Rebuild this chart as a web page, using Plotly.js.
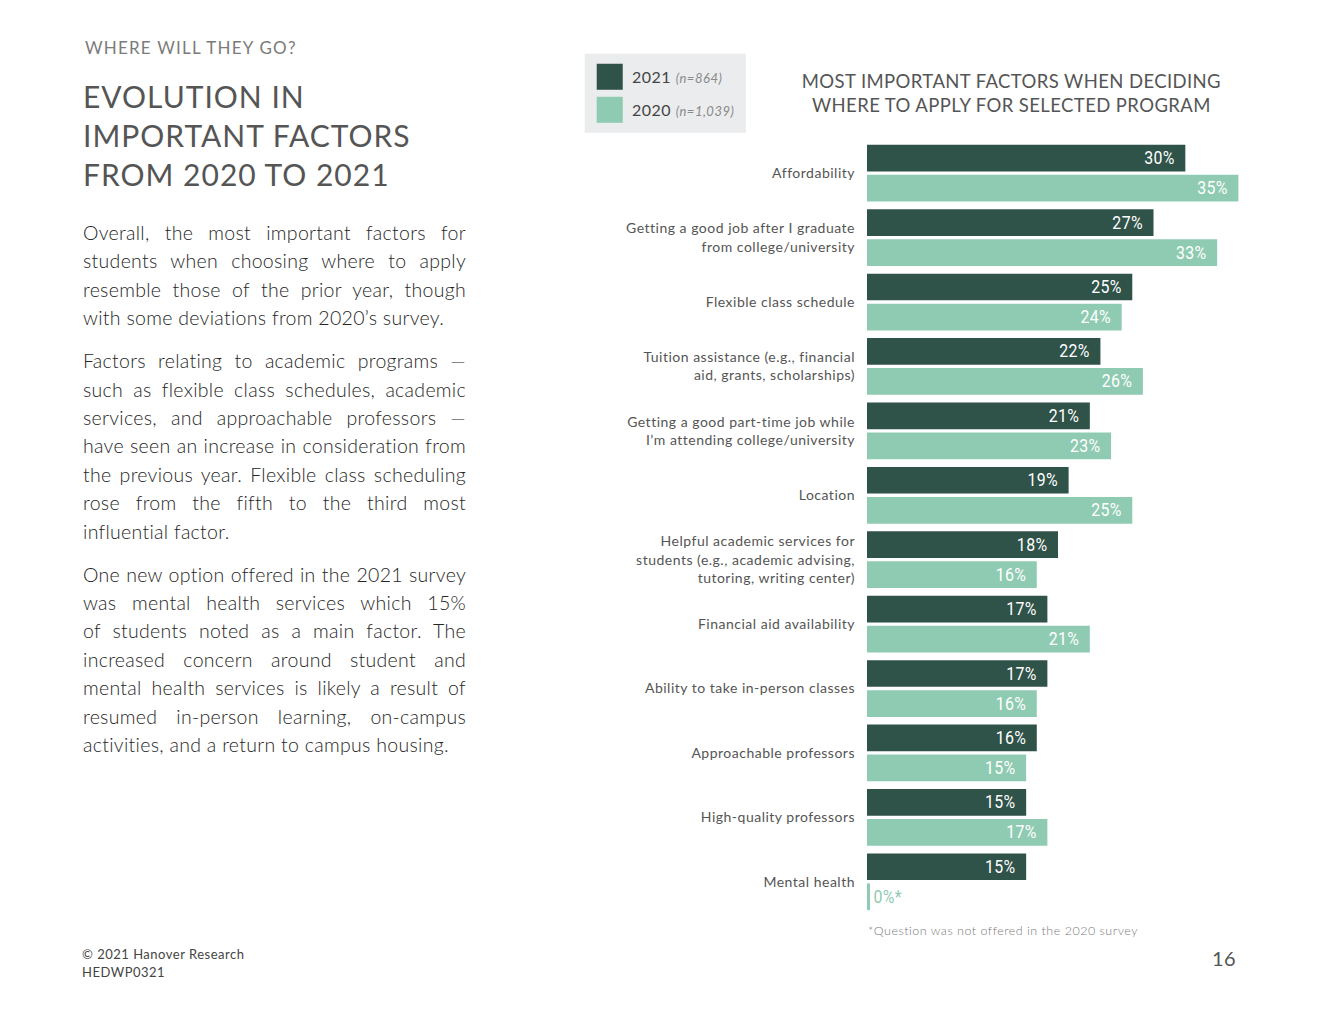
<!DOCTYPE html>
<html>
<head>
<meta charset="utf-8">
<script src="https://cdn.plot.ly/plotly-3.0.1.min.js"></script>
<style>
  html, body { margin: 0; padding: 0; background: #ffffff; }
  #page { position: relative; width: 1320px; height: 1020px; overflow: hidden; }
  #chart { position: absolute; left: 0; top: 0; width: 1320px; height: 1020px; }
  #body-text { position: absolute; left: 83px; top: 219px; width: 383px;
    font-family: Lato, "Open Sans", sans-serif; font-size: 19.5px; font-weight: 300; color: #262626;
    letter-spacing: 0.3px; line-height: 28.4px; }
  #body-text p { margin: 0 0 14.6px 0; }
  #body-text .ln { display: block; white-space: nowrap; text-align: justify; text-align-last: justify; }
  #body-text .ln.last { text-align: left; text-align-last: left; }
  #chart .annotation text { letter-spacing: 0.5px; }
  #chart .annotation[data-index="0"] text { letter-spacing: 1.2px; }
  #chart .annotation[data-index="1"] text { letter-spacing: 1px; }
  #chart .annotation[data-index="2"] text { letter-spacing: 0.4px; }
  #chart .ytick text { letter-spacing: 0.5px; }
  #chart .bars .point text { letter-spacing: 0.4px; }
</style>
</head>
<body>
<div id="page">
  <div id="chart"></div>
  <div id="body-text"></div>
</div>
<script>
// ---------------- DATA ----------------
const categories = [
  "Affordability",
  "Getting a good job after I graduate<br>from college/university",
  "Flexible class schedule",
  "Tuition assistance (e.g., financial<br>aid, grants, scholarships)",
  "Getting a good part-time job while<br>I’m attending college/university",
  "Location",
  "Helpful academic services for<br>students (e.g., academic advising,<br>tutoring, writing center)",
  "Financial aid availability",
  "Ability to take in-person classes",
  "Approachable professors",
  "High-quality professors",
  "Mental health"
];
const values2021 = [30, 27, 25, 22, 21, 19, 18, 17, 17, 16, 15, 15];
const values2020 = [35, 33, 24, 26, 23, 25, 16, 21, 16, 15, 17, 0];
const notOffered2020 = [false, false, false, false, false, false, false, false, false, false, false, true];
const seriesNames = ["2021", "2020"];
const seriesN = ["n=864", "n=1,039"];

const paragraphs = [
  ["Overall, the most important factors for",
   "students when choosing where to apply",
   "resemble those of the prior year, though",
   "with some deviations from 2020’s survey."],
  ["Factors relating to academic programs —",
   "such as flexible class schedules, academic",
   "services, and approachable professors —",
   "have seen an increase in consideration from",
   "the previous year. Flexible class scheduling",
   "rose from the fifth to the third most",
   "influential factor."],
  ["One new option offered in the 2021 survey",
   "was mental health services which 15%",
   "of students noted as a main factor.  The",
   "increased concern around student and",
   "mental health services is likely a result of",
   "resumed in-person learning, on-campus",
   "activities, and a return to campus housing."]
];

// ---------------- STYLE ----------------
const DARK = "#2f5249";
const LIGHT = "#8fcbb2";
const W = 1320, H = 1020;
const plotL = 867, plotR = 1248.6, plotT = 141.2, plotB = 913.8;
const XMAX = 36;
const BAR_W = 0.415;
const OFF_2021 = -0.441, OFF_2020 = 0.025;
const labelFont = "Roboto, 'Liberation Sans', sans-serif";
const LATO = "Lato, 'Open Sans', sans-serif";
const NB = "\u00a0\u00a0";
const LABEL_SCALE_X = 0.86;
const LABEL_SIZE = 18.5;

function px(x) { return (x - plotL) / (plotR - plotL); }
function py(y) { return (plotB - y) / (plotB - plotT); }

// body text (justified)
const bt = document.getElementById('body-text');
paragraphs.forEach(lines => {
  const p = document.createElement('p');
  lines.forEach((l, i) => {
    const s = document.createElement('span');
    s.className = 'ln' + (i === lines.length - 1 ? ' last' : '');
    s.textContent = l;
    p.appendChild(s);
  });
  bt.appendChild(p);
});

const text2021 = values2021.map(v => v + "%" + NB);
const text2020 = values2020.map((v, i) => notOffered2020[i] ? "\u00a0" + v + "%*" : v + "%" + NB);
const pos2020 = notOffered2020.map(f => f ? "outside" : "inside");
const col2020 = notOffered2020.map(f => f ? LIGHT : "#ffffff");

const trace2021 = {
  type: "bar", orientation: "h", name: seriesNames[0],
  y: categories, x: values2021,
  width: BAR_W, offset: OFF_2021,
  marker: { color: DARK },
  text: text2021, textposition: "inside", insidetextanchor: "end",
  textfont: { family: labelFont, size: LABEL_SIZE, color: "#ffffff" },
  constraintext: "none", cliponaxis: false, hoverinfo: "skip"
};
const trace2020 = {
  type: "bar", orientation: "h", name: seriesNames[1],
  y: categories, x: values2020,
  width: BAR_W, offset: OFF_2020,
  marker: { color: LIGHT },
  text: text2020, textposition: pos2020, insidetextanchor: "end",
  textfont: { family: labelFont, size: LABEL_SIZE, color: col2020 },
  outsidetextfont: { family: labelFont, size: LABEL_SIZE, color: LIGHT },
  constraintext: "none", cliponaxis: false, hoverinfo: "skip"
};

// thin marker for "not offered" (value 0) bars
const shapes = [];
notOffered2020.forEach((f, i) => {
  if (f) {
    shapes.push({ type: "rect", xref: "x", yref: "y", xsizemode: "pixel", xanchor: values2020[i],
      x0: 0, x1: 3, y0: i + OFF_2020, y1: i + OFF_2020 + BAR_W,
      fillcolor: LIGHT, line: { width: 0 } });
  }
});
// legend box
shapes.push({ type: "rect", xref: "paper", yref: "paper", layer: "below",
  x0: px(585), x1: px(746), y0: py(54), y1: py(133), fillcolor: "#ebeced", line: { width: 0 } });
shapes.push({ type: "rect", xref: "paper", yref: "paper",
  x0: px(597), x1: px(623), y0: py(64), y1: py(90), fillcolor: DARK, line: { width: 0 } });
shapes.push({ type: "rect", xref: "paper", yref: "paper",
  x0: px(597), x1: px(623), y0: py(97), y1: py(123), fillcolor: LIGHT, line: { width: 0 } });

function ann(text, x, y, size, color, opts) {
  return Object.assign({
    text: text, xref: "paper", yref: "paper", x: px(x), y: py(y),
    xanchor: "left", yanchor: "middle", showarrow: false, align: "left",
    font: { family: LATO, size: size, color: color }
  }, opts || {});
}

const annotations = [
  ann("WHERE WILL THEY GO?", 84, 48, 17, "#7b7b7b"),
  ann("EVOLUTION IN<br>IMPORTANT FACTORS<br>FROM 2020 TO 2021", 82, 135, 30, "#555555"),
  ann("MOST IMPORTANT FACTORS WHEN DECIDING<br>WHERE TO APPLY FOR SELECTED PROGRAM", 1011, 93.5, 18.5, "#555555",
      { xanchor: "center", align: "center" }),
  ann(seriesNames[0] + " <span style='font-size:13px;color:#8a8a8a'><i>(" + seriesN[0] + ")</i></span>", 630, 77, 16, "#444444"),
  ann(seriesNames[1] + " <span style='font-size:13px;color:#8a8a8a'><i>(" + seriesN[1] + ")</i></span>", 630, 110, 16, "#444444"),
  ann("*Question was not offered in the 2020 survey", 866, 930, 12.5, "#7a7a7a", { font: { family: LATO, size: 12.5, color: "#7a7a7a", weight: 300 } }),
  ann("© 2021 Hanover Research", 81, 954, 13, "#444444"),
  ann("HEDWP0321", 81, 972, 13, "#444444"),
  ann("16", 1237, 958, 20, "#555555", { xanchor: "right" })
];

const layout = {
  width: W, height: H,
  margin: { l: plotL, r: W - plotR, t: plotT, b: H - plotB, pad: 0 },
  paper_bgcolor: "#ffffff", plot_bgcolor: "#ffffff",
  barmode: "overlay",
  showlegend: false,
  xaxis: { range: [0, XMAX], showgrid: false, zeroline: false, showticklabels: false, showline: false, ticks: "", fixedrange: true },
  yaxis: { type: "category", range: [categories.length - 0.5, -0.5], showgrid: false, zeroline: false, showline: false,
    ticks: "", ticklabelstandoff: 11, tickfont: { family: LATO, size: 14, color: "#555555" }, fixedrange: true },
  shapes: shapes,
  annotations: annotations
};

Plotly.newPlot("chart", [trace2021, trace2020], layout, { staticPlot: true, displayModeBar: false }).then(() => {
  // narrow the value labels horizontally to mimic a condensed face
  document.querySelectorAll('#chart .bars .point text').forEach(t => {
    const b = t.getBBox();
    const inside = t.classList.contains('bartext-inside');
    const ax = inside ? b.x + b.width : b.x;
    const prev = t.getAttribute('transform') || '';
    t.setAttribute('transform', prev + ' translate(' + ax + ',0) scale(' + LABEL_SCALE_X + ',1) translate(' + (-ax) + ',0)');
  });
});
</script>
</body>
</html>
